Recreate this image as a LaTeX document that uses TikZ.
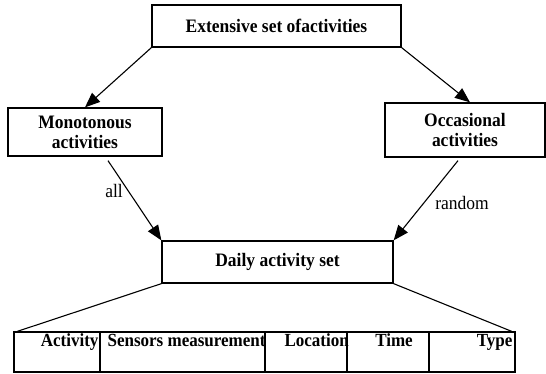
\documentclass[tikz,border=0pt]{standalone}
\usepackage{fontspec}
\setmainfont{Liberation Serif}
\newfontfamily\narrowserif[FakeStretch=0.92]{Liberation Serif}
\usetikzlibrary{arrows.meta,calc}
\begin{document}
\begin{tikzpicture}[x=1pt,y=-1pt,
  boxstyle/.style={draw,line width=1.3pt,inner sep=0pt,font=\narrowserif\fontsize{19}{20}\selectfont\bfseries,align=center},
  cellstyle/.style={draw,line width=1.3pt,inner sep=0pt,minimum height=40pt},
  celltext/.style={inner sep=0pt,font=\narrowserif\fontsize{18.5}{20}\selectfont\bfseries},
  flow/.style={line width=1.1pt,-{Triangle[length=15pt,width=12pt]}},
  edgelabel/.style={inner sep=0pt,font=\narrowserif\fontsize{19}{20}\selectfont},
  fan/.style={line width=1.1pt}]
\useasboundingbox (0,0) rectangle (546,374);

% activity groups
\node[boxstyle,minimum width=249pt,minimum height=42pt] (ext) at (276.5,26) {Extensive set ofactivities};
\node[boxstyle,minimum width=154pt,minimum height=48pt] (mono) at (85,132) {Monotonous\\activities};
\node[boxstyle,minimum width=160pt,minimum height=54pt] (occ) at (465,130) {Occasional\\activities};
\node[boxstyle,minimum width=231pt,minimum height=42pt] (daily) at (277.5,262) {Daily activity set};

% record layout of a daily activity
\node[cellstyle,minimum width=86pt] (c1) at (57,352) {};
\node[cellstyle,minimum width=165pt] (c2) at (182.5,352) {};
\node[cellstyle,minimum width=82pt] (c3) at (306,352) {};
\node[cellstyle,minimum width=82pt] (c4) at (388,352) {};
\node[cellstyle,minimum width=86pt] (c5) at (472,352) {};

\node[celltext,anchor=base east] (t1) at ($(c1.north east)+(-2,15)$) {Activity};
\node[celltext,anchor=base west] (t2) at ($(c2.north west)+(8,15)$) {Sensors measurement};
\node[celltext,anchor=base west] (t3) at ($(c3.north west)+(20,15)$) {Location};
\node[celltext,anchor=base] (t4) at ($(c4.north)+(6,15)$) {Time};
\node[celltext,anchor=base east] (t5) at ($(c5.north east)+(-3,15)$) {Type};

% connectors
\draw[flow] (ext.south west) -- (mono.north);
\draw[flow] (ext.south east) -- ($(occ.north)+(5,0)$);
\coordinate (monoout) at ($(mono.south)+(23,4)$);
\coordinate (occout) at ($(occ.south)+(-7,3)$);
\draw[flow] (monoout) -- (daily.north west);
\draw[flow] (occout) -- (daily.north east);
\node[edgelabel] (lall) at (114,191) {all};
\node[edgelabel] (lrandom) at (462,203) {random};

\draw[fan] (daily.south west) -- ($(c1.north west)+(4,0)$);
\draw[fan] (daily.south east) -- ($(c5.north east)+(-4,0)$);
\end{tikzpicture}
\end{document}
